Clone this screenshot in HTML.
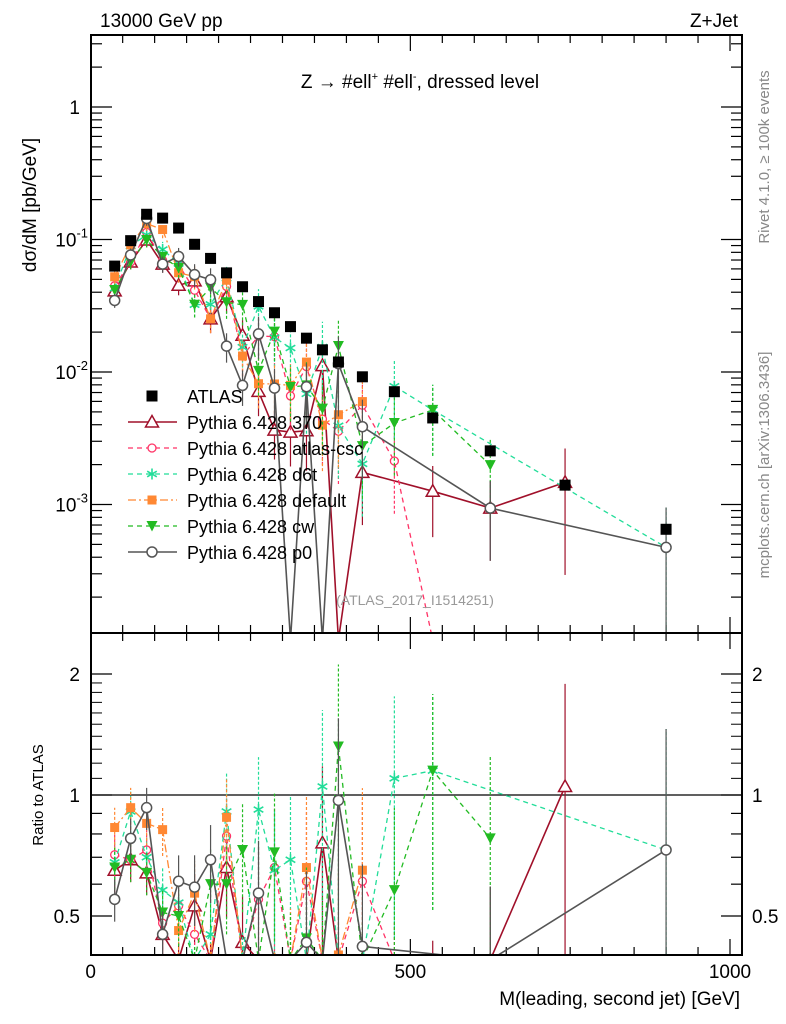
<!DOCTYPE html>
<html><head><meta charset="utf-8"><style>
html,body{margin:0;padding:0;background:#fff;width:786px;height:1024px;overflow:hidden;}
svg{display:block;font-family:"Liberation Sans",sans-serif;overflow:hidden;}
</style></head><body>
<svg id="chart" width="786" height="1024" viewBox="0 0 786 1024" xmlns="http://www.w3.org/2000/svg">
<defs>
<clipPath id="clipMain"><rect x="91" y="35" width="651" height="598"/></clipPath>
<clipPath id="clipRatio"><rect x="91" y="633" width="651" height="322"/></clipPath>
</defs>
<g id="ticks"></g>
<g id="marksMain" clip-path="url(#clipMain)"></g>
<g id="marksRatio" clip-path="url(#clipRatio)"></g>
<rect x="91" y="35" width="651" height="598" fill="none" stroke="#000" stroke-width="2"/>
<rect x="91" y="633" width="651" height="322" fill="none" stroke="#000" stroke-width="2"/>
<text x="100" y="27" font-size="19">13000 GeV pp</text>
<text x="738" y="27" font-size="19" text-anchor="end">Z+Jet</text>
<text x="420" y="88" font-size="19" text-anchor="middle">Z → #ell<tspan font-size="11" dy="-8">+</tspan><tspan dy="8"> #ell</tspan><tspan font-size="11" dy="-8">-</tspan><tspan dy="8">, dressed level</tspan></text>
<text transform="translate(36,205) rotate(-90)" font-size="19" text-anchor="middle">dσ/dM [pb/GeV]</text>
<text transform="translate(43,795) rotate(-90)" font-size="15" text-anchor="middle">Ratio to ATLAS</text>
<text x="740" y="1005" font-size="19" text-anchor="end">M(leading, second jet) [GeV]</text>
<text transform="translate(769,157) rotate(-90)" font-size="15" fill="#888" text-anchor="middle">Rivet 4.1.0, ≥ 100k events</text>
<text transform="translate(769,465) rotate(-90)" font-size="15" fill="#888" text-anchor="middle">mcplots.cern.ch [arXiv:1306.3436]</text>
<text x="415" y="605" font-size="14" fill="#999" text-anchor="middle">(ATLAS_2017_I1514251)</text>
<g id="legend"></g>
</svg>
<script>
// ---- data ----
const binCenters = [37.5,62.5,87.5,112.5,137.5,162.5,187.5,212.5,237.5,262.5,287.5,312.5,337.5,362.5,387.5,425,475,535,625,742,900];
const atlasValues = [0.063,0.098,0.155,0.145,0.122,0.092,0.072,0.056,0.044,0.034,0.028,0.022,0.018,0.0147,0.0119,0.0092,0.0071,0.0045,0.00254,0.0014,0.00065];
const ratio370 = [0.65,0.69,0.64,0.45,0.37,0.53,0.35,0.66,0.43,0.21,0.13,0.16,0.2,0.76,0,0.19,null,0.28,0.37,1.05,null];
const ratioCsc = [0.71,0.69,0.73,0.48,0.53,0.45,0.35,0.79,0.3,0.55,0.66,0.3,0.61,0.3,0.3,0.61,0.3,0,null,null,null];
const ratioD6t = [0.68,0.91,0.7,0.58,0.54,0.35,0.45,0.91,0.35,0.92,0.65,0.69,0.38,1.05,0.33,0.22,1.1,1.15,null,null,0.73];
const ratioDefault = [0.83,0.93,0.85,0.82,0.46,0.57,0.35,0.88,0.3,0.24,0.29,0.36,0.66,0.27,0.4,0.65,null,null,null,null,null];
const ratioCw = [0.66,0.69,0.64,0.51,0.5,0.35,0.6,0.6,0.73,0.3,0.72,0.35,0.44,0.36,1.32,0.3,0.58,1.15,0.78,null,null];
const ratioP0 = [0.55,0.78,0.93,0.45,0.61,0.59,0.69,0.28,0.18,0.57,0.27,0,0.43,0,0.97,0.42,null,null,0.37,null,0.73];
const mcRelErr = [0.12,0.12,0.12,0.14,0.16,0.2,0.22,0.25,0.3,0.35,0.4,0.45,0.5,0.55,0.6,0.6,0.6,0.55,0.6,0.8,1.0];
const xTickLabels = ["0","500","1000"];
const mainTickExps = [0,-1,-2,-3];
const ratioTickLabels = ["0.5","1","2"];

// ---- axes ----
const X0=90.7, XS=0.6393;
function xs(v){return X0+v*XS;}
function ym(v){ if(v<=0) return 640; return Math.min(640,107-Math.log10(v)*132.5);}
function yr(r){ if(r<=0) return 960; return Math.min(960,795-Math.log2(r)*121);}
const NS="http://www.w3.org/2000/svg";
function mk(tag,attrs,parent){const e=document.createElementNS(NS,tag);for(const k in attrs)e.setAttribute(k,attrs[k]);parent.appendChild(e);return e;}

const ticks=document.getElementById('ticks');
for(let g=0; g<=1000; g+=50){
  const major = g%500===0;
  const L = major?16:8;
  const x=xs(g);
  [[35,35+L],[633,633-L],[633,633+L],[955,955-L]].forEach(p=>{
    const t=mk('line',{x1:x,x2:x,y1:p[0],y2:p[1],stroke:'#000','stroke-width':1.2},ticks);
    
    
  });
}
xTickLabels.forEach(s=>{
  const t=mk('text',{x:xs(+s),y:978,'font-size':19,'text-anchor':'middle'},ticks);
  t.textContent=s;
  
  
});
for(let e=1;e>=-4;e--){
  for(let m=1;m<10;m++){
    const v=m*Math.pow(10,e); const y=107-Math.log10(v)*132.5;
    if(y<35||y>633) continue;
    const L = m===1?21:11;
    [[91,91+L],[742,742-L]].forEach(p=>{
      const t=mk('line',{x1:p[0],x2:p[1],y1:y,y2:y,stroke:'#000','stroke-width':1.2},ticks);
      
      
    });
  }
}
mainTickExps.forEach(e=>{
  const y=ym(Math.pow(10,e));
  const t=mk('text',{x:80,y:y+7,'font-size':19,'text-anchor':'end'},ticks);
  if(e===0){t.textContent='1';}
  else{ t.innerHTML='10<tspan font-size="13" dy="-9">'+e+'</tspan>'; t.setAttribute('x',88);}
  
  
});
[0.4,0.5,0.6,0.7,0.8,0.9,1,2].forEach(r=>{
  const y=yr(r); if(y>955||y<633) return;
  const L=(r===0.5||r===1||r===2)?21:11;
  [[91,91+L],[742,742-L]].forEach(p=>{
    const t=mk('line',{x1:p[0],x2:p[1],y1:y,y2:y,stroke:'#000','stroke-width':1.2},ticks);
    
    
  });
});
[1.1,1.2,1.3,1.4,1.5,1.6,1.7,1.8,1.9].forEach(r=>{
  const y=yr(r);
  [[91,102],[742,731]].forEach(p=>{
    const t=mk('line',{x1:p[0],x2:p[1],y1:y,y2:y,stroke:'#000','stroke-width':1},ticks);
    
    
  });
});
ratioTickLabels.forEach(s=>{
  const y=yr(+s);
  [[80,'end'],[752,'start']].forEach(p=>{
    const t=mk('text',{x:p[0],y:y+7,'font-size':19,'text-anchor':p[1]},ticks);
    t.textContent=s;
    
    
  });
});
const ref=mk('line',{x1:91,x2:742,y1:yr(1),y2:yr(1),stroke:'#000','stroke-width':1.3},document.getElementById('marksRatio'));



const series=[
 {name:'370',label:'Pythia 6.428 370',ratio:ratio370,color:'#a0102a',dash:'',marker:'tri',w:1.6},
 {name:'atlas-csc',label:'Pythia 6.428 atlas-csc',ratio:ratioCsc,color:'#ff3366',dash:'5,4',marker:'circSmall',w:1.3},
 {name:'d6t',label:'Pythia 6.428 d6t',ratio:ratioD6t,color:'#22dd99',dash:'5,4',marker:'star',w:1.3},
 {name:'default',label:'Pythia 6.428 default',ratio:ratioDefault,color:'#ff8833',dash:'8,3,2,3',marker:'sq',w:1.3},
 {name:'cw',label:'Pythia 6.428 cw',ratio:ratioCw,color:'#22bb22',dash:'5,4',marker:'dtri',w:1.3},
 {name:'p0',label:'Pythia 6.428 p0',ratio:ratioP0,color:'#555555',dash:'',marker:'circ',w:1.6}
];
function marker(type,x,y,c,parent){
  let e;
  if(type==='tri') e=mk('polygon',{points:`${x},${y-6.5} ${x-6.5},${y+5} ${x+6.5},${y+5}`,fill:'#fff',stroke:c,'stroke-width':1.5},parent);
  else if(type==='dtri') e=mk('polygon',{points:`${x-5.5},${y-5} ${x+5.5},${y-5} ${x},${y+5.5}`,fill:c},parent);
  else if(type==='sq') e=mk('rect',{x:x-4.5,y:y-4.5,width:9,height:9,fill:c},parent);
  else if(type==='circ') e=mk('circle',{cx:x,cy:y,r:5,fill:'#fff',stroke:c,'stroke-width':1.5},parent);
  else if(type==='circSmall') e=mk('circle',{cx:x,cy:y,r:4,fill:'#fff',stroke:c,'stroke-width':1.3},parent);
  else if(type==='star'){ e=mk('g',{},parent);
    [[0,5.5],[4.8,2.8],[4.8,-2.8]].forEach(d=>mk('line',{x1:x-d[0],y1:y-d[1],x2:x+d[0],y2:y+d[1],stroke:c,'stroke-width':1.6},e)); }
  else if(type==='bigsq') e=mk('rect',{x:x-5.5,y:y-5.5,width:11,height:11,fill:c},parent);
  return e;
}
const gM=document.getElementById('marksMain'), gR=document.getElementById('marksRatio');
series.forEach(s=>{
  const gm=mk('g',{},gM);  
  const gr=mk('g',{},gR);  
  let pm=[], pr=[];
  binCenters.forEach((b,i)=>{
    const r=s.ratio[i]; if(r===null) return;
    const v=r*atlasValues[i];
    const x=xs(b);
    pm.push(x+','+ym(v)); pr.push(x+','+yr(r));
  });
  mk('polyline',{points:pm.join(' '),fill:'none',stroke:s.color,'stroke-width':s.w,'stroke-dasharray':s.dash},gm);
  mk('polyline',{points:pr.join(' '),fill:'none',stroke:s.color,'stroke-width':s.w,'stroke-dasharray':s.dash},gr);
  binCenters.forEach((b,i)=>{
    const r=s.ratio[i]; if(r===null||r<=0) return;
    const v=r*atlasValues[i], x=xs(b), er=mcRelErr[i];
    const lo=Math.max(v*(1-er),1e-6), hi=v*(1+er);
    mk('line',{x1:x,x2:x,y1:ym(lo),y2:ym(hi),stroke:s.color,'stroke-width':1.2,'stroke-dasharray':s.dash?'3,2':''},gm);
    mk('line',{x1:x,x2:x,y1:yr(Math.max(r*(1-er),1e-3)),y2:yr(r*(1+er)),stroke:s.color,'stroke-width':1.2,'stroke-dasharray':s.dash?'3,2':''},gr);
    const m1=marker(s.marker,x,ym(v),s.color,gm);
    
    
    const m2=marker(s.marker,x,yr(r),s.color,gr);
    
    
  });
});
const ga=mk('g',{},gM);


binCenters.forEach((b,i)=>{
  const m=marker('bigsq',xs(b),ym(atlasValues[i]),'#000',ga);
  
  
});
const lg=document.getElementById('legend');
const ly0=396, ldy=26;
const la=marker('bigsq',152,ly0,'#000',lg);


const lt=mk('text',{x:187,y:ly0+7,'font-size':18},lg);
lt.textContent='ATLAS';


series.forEach((s,k)=>{
  const y=ly0+ldy*(k+1);
  const l=mk('line',{x1:128,x2:177,y1:y,y2:y,stroke:s.color,'stroke-width':s.w,'stroke-dasharray':s.dash},lg);
  
  
  const m=marker(s.marker,152,y,s.color,lg);
  
  
  const t=mk('text',{x:187,y:y+7,'font-size':18},lg);
  t.textContent=s.label;
  
  
});
</script>
</body></html>
